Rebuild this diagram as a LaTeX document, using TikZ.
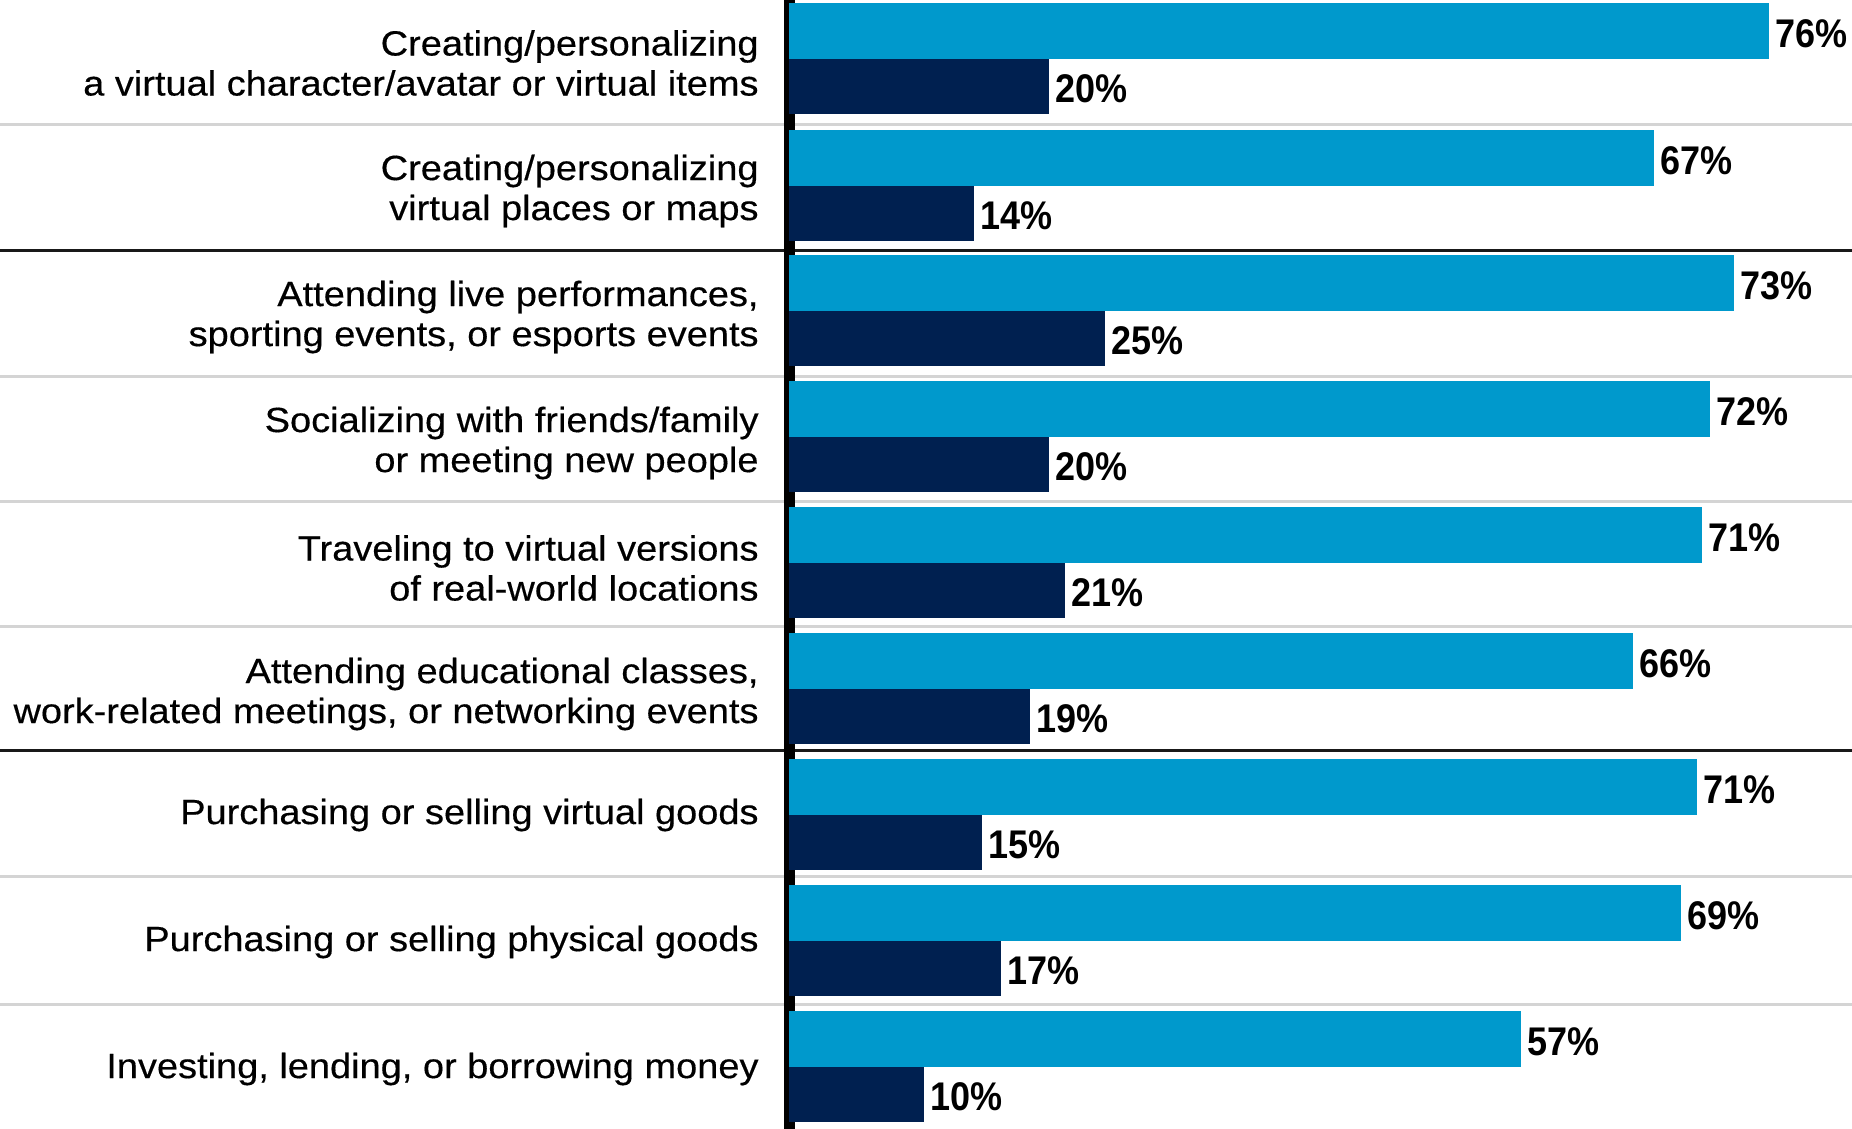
\documentclass[tikz,border=0pt]{standalone}
\usepackage{fontspec}
\setmainfont{Liberation Sans}[FakeStretch=1.085, FakeBold=0.4]
\newfontfamily\valfont{Liberation Sans}[FakeStretch=0.9]
\usetikzlibrary{positioning}
\definecolor{barlight}{RGB}{0,153,204}
\definecolor{bardark}{RGB}{0,32,80}
\definecolor{rulegray}{RGB}{212,212,212}

\begin{document}
\begin{tikzpicture}[x=0.5pt, y=-0.5pt,
        act/.style={anchor=east, align=right, inner sep=0pt, font=\fontsize{17.5}{20}\selectfont},
        bar/.style={anchor=north west, inner sep=0pt, outer sep=0pt},
        lightbar/.style={bar, fill=barlight, minimum height=28pt, minimum width=#1*0.5pt},
        darkbar/.style={bar, fill=bardark, minimum height=27.5pt, minimum width=#1*0.5pt},
        val/.style={inner sep=0pt, yshift=-1.25pt, font=\valfont\bfseries\fontsize{20}{24}\selectfont},
        thinrule/.style={rulegray, line width=1.5pt},
        thickrule/.style={black!90, line width=1.5pt},
        ]
        \useasboundingbox (0,0) rectangle (1852,1129);

        % rules between the rows
        \draw[thinrule] (0,125) -- (1852,125);
        \draw[thickrule] (0,250) -- (1852,250);
        \draw[thinrule] (0,376) -- (1852,376);
        \draw[thinrule] (0,501) -- (1852,501);
        \draw[thinrule] (0,626) -- (1852,626);
        \draw[thickrule] (0,750) -- (1852,750);
        \draw[thinrule] (0,876) -- (1852,876);
        \draw[thinrule] (0,1004) -- (1852,1004);
        \draw[black, line width=5.5pt] (789.5,0) -- (789.5,1129);

        \node (avatar) at (759,63) [act] {Creating/personalizing\\a virtual character/avatar or virtual items};
        \node (avatar-l) at (789,3) [lightbar=980] {};
        \node (avatar-d) at (789,59) [darkbar=260] {};
        \node (avatar-lv) [val, right=3pt of avatar-l] {76\%};
        \node (avatar-dv) [val, right=3pt of avatar-d] {20\%};

        \node (places) at (759,191) [act] {Creating/personalizing\\virtual places or maps};
        \node (places-l) at (789,130) [lightbar=865] {};
        \node (places-d) at (789,186) [darkbar=185] {};
        \node (places-lv) [val, right=3pt of places-l] {67\%};
        \node (places-dv) [val, right=3pt of places-d] {14\%};

        \node (events) at (759,317) [act] {Attending live performances,\\sporting events, or esports events};
        \node (events-l) at (789,255) [lightbar=945] {};
        \node (events-d) at (789,311) [darkbar=316] {};
        \node (events-lv) [val, right=3pt of events-l] {73\%};
        \node (events-dv) [val, right=3pt of events-d] {25\%};

        \node (social) at (759,443) [act] {Socializing with friends/family\\or meeting new people};
        \node (social-l) at (789,381) [lightbar=921] {};
        \node (social-d) at (789,437) [darkbar=260] {};
        \node (social-lv) [val, right=3pt of social-l] {72\%};
        \node (social-dv) [val, right=3pt of social-d] {20\%};

        \node (travel) at (759,568) [act] {Traveling to virtual versions\\of real-world locations};
        \node (travel-l) at (789,507) [lightbar=913] {};
        \node (travel-d) at (789,563) [darkbar=276] {};
        \node (travel-lv) [val, right=3pt of travel-l] {71\%};
        \node (travel-dv) [val, right=3pt of travel-d] {21\%};

        \node (classes) at (759,694) [act] {Attending educational classes,\\work-related meetings, or networking events};
        \node (classes-l) at (789,633) [lightbar=844] {};
        \node (classes-d) at (789,689) [darkbar=241] {};
        \node (classes-lv) [val, right=3pt of classes-l] {66\%};
        \node (classes-dv) [val, right=3pt of classes-d] {19\%};

        \node (virtual) at (759,815) [act] {Purchasing or selling virtual goods};
        \node (virtual-l) at (789,759) [lightbar=908] {};
        \node (virtual-d) at (789,815) [darkbar=193] {};
        \node (virtual-lv) [val, right=3pt of virtual-l] {71\%};
        \node (virtual-dv) [val, right=3pt of virtual-d] {15\%};

        \node (physical) at (759,942) [act] {Purchasing or selling physical goods};
        \node (physical-l) at (789,885) [lightbar=892] {};
        \node (physical-d) at (789,941) [darkbar=212] {};
        \node (physical-lv) [val, right=3pt of physical-l] {69\%};
        \node (physical-dv) [val, right=3pt of physical-d] {17\%};

        \node (money) at (759,1069) [act] {Investing, lending, or borrowing money};
        \node (money-l) at (789,1011) [lightbar=732] {};
        \node (money-d) at (789,1067) [darkbar=135] {};
        \node (money-lv) [val, right=3pt of money-l] {57\%};
        \node (money-dv) [val, right=3pt of money-d] {10\%};
    \end{tikzpicture}
\end{document}
